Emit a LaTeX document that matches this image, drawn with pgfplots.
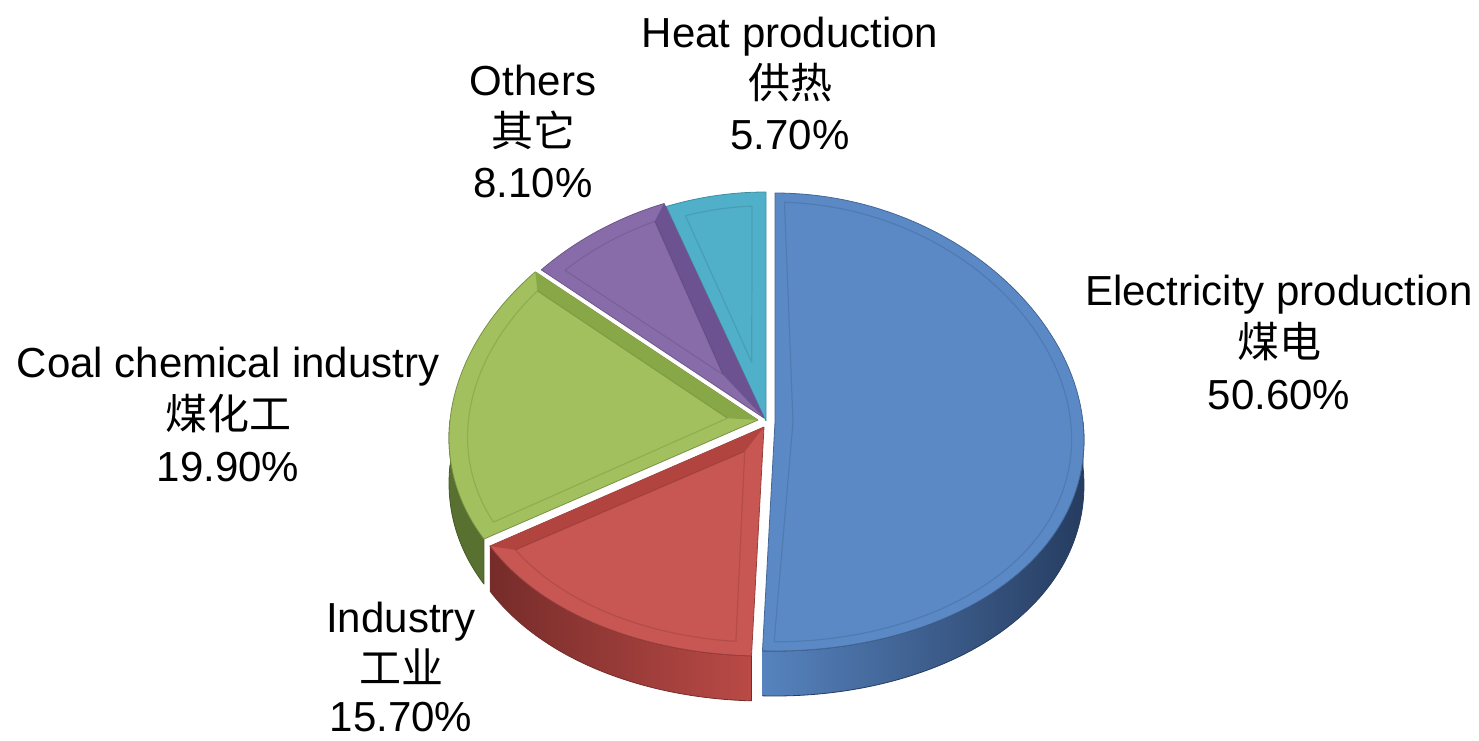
\documentclass[border=0pt]{standalone}
\usepackage{fontspec}
\setmainfont{Liberation Sans}
\newfontfamily\cjk{Noto Sans CJK SC}
\usepackage{pgfplots}
\pgfplotsset{compat=1.18}

\definecolor{cBlue}{RGB}{90,137,198}
\definecolor{cBlueS}{RGB}{86,131,190}
\definecolor{cBlueM}{RGB}{70,108,160}
\definecolor{cBlueD}{RGB}{38,60,96}
\definecolor{cRed}{RGB}{200,86,83}
\definecolor{cRedS}{RGB}{186,74,70}
\definecolor{cRedD}{RGB}{118,44,42}
\definecolor{cRedB}{RGB}{178,68,64}
\definecolor{cGreen}{RGB}{162,193,94}
\definecolor{cGreenB}{RGB}{136,168,72}
\definecolor{cGreenD}{RGB}{88,112,48}
\definecolor{cPurple}{RGB}{136,108,170}
\definecolor{cPurpleB}{RGB}{108,82,144}
\definecolor{cCyan}{RGB}{80,176,202}

% ---- data (percent) ----
\def\vElec{50.6}
\def\vInd{15.7}
\def\vCoal{19.9}
\def\vOth{8.1}
\def\vHeat{5.7}

% ---- geometry (pixels) ----
\def\cx{768}\def\cy{422}\def\rx{308}\def\ry{229}\def\dep{45}\def\pp{0.08}

% cumulative angles, clockwise from 12 o'clock
\pgfmathsetmacro\aE{90-3.6*\vElec}
\pgfmathsetmacro\aI{\aE-3.6*\vInd}
\pgfmathsetmacro\aC{\aI-3.6*\vCoal}
\pgfmathsetmacro\aO{\aC-3.6*\vOth}
\pgfmathsetmacro\aH{\aO-3.6*\vHeat}
\pgfmathsetmacro\yr{\ry/\rx}

\newcommand\prep[3]{%
  \pgfmathsetmacro\tmpm{((#2)+(#3))/2}%
  \pgfmathsetmacro\tmph{((#3)-(#2))/2}%
  \pgfmathsetmacro\tmps{min(80,18/sin(\tmph))}%
  \pgfmathsetmacro\tmpx{\tmps*cos(\tmpm)}%
  \expandafter\let\csname #1adx\endcsname\tmpx
  \pgfmathsetmacro\tmpy{-\tmps*sin(\tmpm)*\yr}%
  \expandafter\let\csname #1ady\endcsname\tmpy
}
\prep{E}{\aE}{90}
\prep{I}{\aI}{\aE}
\prep{C}{\aC}{\aI}
\prep{O}{\aO}{\aC}
\prep{H}{\aH}{\aO}

\tikzset{declare function={
  px(\qa,\qr)=\cx+\qr*\rx*cos(\qa)*(1-\pp*sin(\qa));
  py(\qa,\qr)=\cy-\qr*\ry*sin(\qa);
  wa(\qt,\qs,\qe)=\qs+(\qe-\qs)*\qt/100;
  inn(\qt)=(\qt>-0.5)*(\qt<100.5);
  sa(\qt,\qs,\qe)=(\qt<150)*(\qs+(\qe-\qs)*\qt/100)+(\qt>150)*(\qe-(\qe-\qs)*(\qt-200)/100);
}}

% wedge: s, e, ox, oy, r, apex dx, apex dy, style
\newcommand\pieWedge[8]{%
  \addplot[#8, samples at={-1,0,1,...,100,101}]
   ({#3+(1-inn(x))*(\cx+#6)+inn(x)*px(wa(x,#1,#2),#5)},
    {#4+(1-inn(x))*(\cy+#7)+inn(x)*py(wa(x,#1,#2),#5)});
}
% side: s, e, ox, oy, style
\newcommand\pieSide[5]{%
  \addplot[#5, samples at={0,1,...,100,200,201,...,300}]
   ({#3+px(sa(x,#1,#2),1)},
    {#4+py(sa(x,#1,#2),1)+(x>150)*\dep});
}
% band: s, ox, oy, r, adx, ady, delta, style
\newcommand\pieBand[8]{%
  \addplot[#8, samples at={0,1,2,3}]
   ({#2+(x<0.5)*\cx+(x>0.5)*(x<1.5)*px(#1,1)+(x>1.5)*(x<2.5)*px(#1+#7,#4)+(x>2.5)*(\cx+#5)},
    {#3+(x<0.5)*\cy+(x>0.5)*(x<1.5)*py(#1,1)+(x>1.5)*(x<2.5)*py(#1+#7,#4)+(x>2.5)*(\cy+#6)});
}

\begin{document}
\begin{tikzpicture}
\begin{axis}[
  width=739.5pt, height=370pt, scale only axis,
  xmin=0, xmax=1479, ymin=0, ymax=740, y dir=reverse,
  hide axis, clip=false,
  every axis plot/.append style={line join=round},
]
\path (rel axis cs:0,0) rectangle (rel axis cs:1,1);

% ---- Heat production (back) ----
\pieWedge{\aH}{\aO}{-2}{-1}{1}{0}{0}{fill=cCyan, draw=cCyan!80!black, line width=0.4pt}
\pieWedge{\aH+3}{\aO-3}{-2}{-1}{0.94}{\Hadx}{\Hady}{draw=black, draw opacity=0.10, line width=0.6pt}

% ---- Others ----
\pieWedge{\aO}{\aC}{-4}{-4}{1}{0}{0}{fill=cPurple, draw=cPurple!80!black, line width=0.4pt}
\pieBand{\aO}{-4}{-4}{0.94}{\Oadx}{\Oady}{3.5}{fill=cPurpleB, draw=none}
\pieWedge{\aO+3.5}{\aC-3}{-4}{-4}{0.94}{\Oadx}{\Oady}{draw=black, draw opacity=0.10, line width=0.6pt}

% ---- Coal chemical industry ----
\pieSide{-180}{\aI}{-10}{-2}{fill=cGreenD, draw=cGreenD!80!black, line width=0.4pt}
\pieWedge{\aC}{\aI}{-10}{-2}{1}{0}{0}{fill=cGreen, draw=cGreen!75!black, line width=0.4pt}
\pieBand{\aC}{-10}{-2}{0.94}{\Cadx}{\Cady}{3.5}{fill=cGreenB, draw=none}
\pieWedge{\aC+3.5}{\aI-3}{-10}{-2}{0.94}{\Cadx}{\Cady}{draw=black, draw opacity=0.10, line width=0.6pt}

% ---- Electricity production ----
\pieSide{\aE}{0}{7}{0}{left color=cBlueS, middle color=cBlueM, right color=cBlueD, draw=cBlueD, line width=0.4pt}
\pieWedge{\aE}{90}{7}{0}{1}{0}{0}{fill=cBlue, draw=cBlue!75!black, line width=0.4pt}
\pieWedge{\aE+2}{90-2}{7}{0}{0.96}{\Eadx}{\Eady}{draw=black, draw opacity=0.10, line width=0.6pt}

% ---- Industry (front) ----
\pieSide{\aI}{\aE}{-4}{5}{left color=cRedD, right color=cRedS, draw=cRedD, line width=0.4pt}
\pieWedge{\aI}{\aE}{-4}{5}{1}{0}{0}{fill=cRed, draw=cRed!75!black, line width=0.4pt}
\pieBand{\aI}{-4}{5}{0.94}{\Iadx}{\Iady}{3.5}{fill=cRedB, draw=none}
\pieWedge{\aI+3.5}{\aE-3}{-4}{5}{0.94}{\Iadx}{\Iady}{draw=black, draw opacity=0.10, line width=0.6pt}

% ---- labels ----
\tikzset{lab/.style={anchor=base, inner sep=0pt, font=\fontsize{21}{25}\selectfont},
         labc/.style={anchor=base, inner sep=0pt, font=\cjk\fontsize{21}{25}\selectfont}}
\node[lab]  at (axis cs:790,47)  {Heat production};
\node[labc] at (axis cs:790,98)  {供热};
\node[lab]  at (axis cs:790,149) {5.70\%};

\node[lab]  at (axis cs:533,95)  {Others};
\node[labc] at (axis cs:533,146) {其它};
\node[lab]  at (axis cs:533,197) {8.10\%};

\node[lab]  at (axis cs:1279,305) {Electricity production};
\node[labc] at (axis cs:1279,357) {煤电};
\node[lab]  at (axis cs:1279,409) {50.60\%};

\node[lab]  at (axis cs:228,377) {Coal chemical industry};
\node[labc] at (axis cs:228,429) {煤化工};
\node[lab]  at (axis cs:228,481) {19.90\%};

\node[lab]  at (axis cs:401,632) {Industry};
\node[labc] at (axis cs:401,683) {工业};
\node[lab]  at (axis cs:401,731) {15.70\%};
\end{axis}
\end{tikzpicture}
\end{document}
